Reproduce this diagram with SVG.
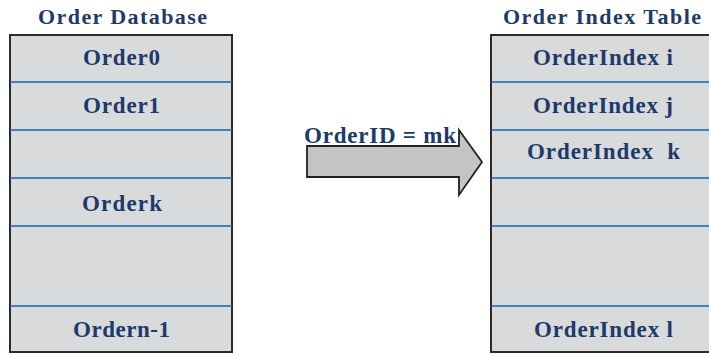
<svg xmlns="http://www.w3.org/2000/svg" width="709" height="354" viewBox="0 0 709 354">
  <style>
    .title { font-family: "Liberation Serif", "Times New Roman", serif; font-weight: bold; font-size: 22px; fill: #1c3a6b; }
    .cell { font-family: "Liberation Serif", "Times New Roman", serif; font-weight: bold; font-size: 23px; fill: #1c3a6b; }
    .table { fill: #d9dadc; stroke: #2b2b2b; stroke-width: 2; }
    .row { stroke: #1f5fa6; stroke-width: 1.6; }
    .arrow { fill: #c3c4c6; stroke: #222222; stroke-width: 1.8; stroke-linejoin: miter; }
  </style>

  <!-- Order Database -->
  <g id="order-database">
    <text class="title" x="38" y="24" textLength="169" lengthAdjust="spacing">Order Database</text>
    <rect class="table" x="10" y="35" width="222" height="317"/>
    <line class="row" x1="10" y1="82" x2="232" y2="82"/>
    <line class="row" x1="10" y1="130" x2="232" y2="130"/>
    <line class="row" x1="10" y1="178" x2="232" y2="178"/>
    <line class="row" x1="10" y1="226" x2="232" y2="226"/>
    <line class="row" x1="10" y1="306" x2="232" y2="306"/>
    <text class="cell" x="83" y="65" textLength="77" lengthAdjust="spacing">Order0</text>
    <text class="cell" x="83" y="113" textLength="77" lengthAdjust="spacing">Order1</text>
    <text class="cell" x="82" y="211" textLength="80" lengthAdjust="spacing">Orderk</text>
    <text class="cell" x="73" y="337" textLength="97" lengthAdjust="spacing">Ordern-1</text>
  </g>

  <!-- Order Index Table -->
  <g id="order-index-table">
    <text class="title" x="503" y="24" textLength="198" lengthAdjust="spacing">Order Index Table</text>
    <rect class="table" x="491" y="35" width="224" height="317"/>
    <line class="row" x1="491" y1="82" x2="709" y2="82"/>
    <line class="row" x1="491" y1="130" x2="709" y2="130"/>
    <line class="row" x1="491" y1="178" x2="709" y2="178"/>
    <line class="row" x1="491" y1="226" x2="709" y2="226"/>
    <line class="row" x1="491" y1="306" x2="709" y2="306"/>
    <text class="cell" x="533" y="65" textLength="140" lengthAdjust="spacing">OrderIndex i</text>
    <text class="cell" x="533" y="113" textLength="140" lengthAdjust="spacing">OrderIndex j</text>
    <text class="cell" x="527" y="159" textLength="153" lengthAdjust="spacing" xml:space="preserve">OrderIndex  k</text>
    <text class="cell" x="534" y="337" textLength="139" lengthAdjust="spacing">OrderIndex l</text>
  </g>

  <!-- lookup arrow -->
  <g id="connectors">
    <polygon class="arrow" points="307,146 459,146 459,130 482,162 459,195 459,177 307,177"/>
    <text class="cell" x="304" y="143" textLength="152" lengthAdjust="spacing">OrderID = mk</text>
  </g>
</svg>
